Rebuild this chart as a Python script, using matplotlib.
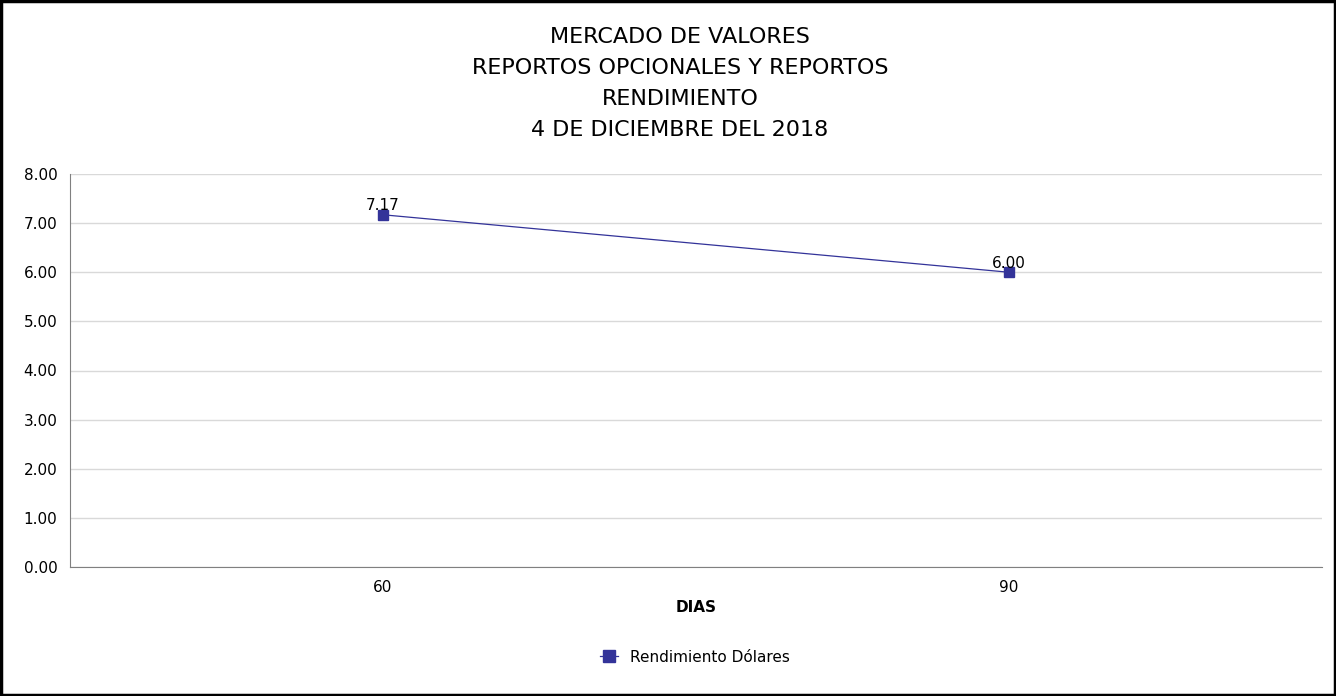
import matplotlib.pyplot as plt
from matplotlib.patches import Rectangle

# Data
dias = ['60', '90']
rendimiento = [7.17, 6.00]
etiquetas = ['7.17', '6.00']
yticks = [0, 1, 2, 3, 4, 5, 6, 7, 8]

titulo = ['MERCADO DE VALORES', 'REPORTOS OPCIONALES Y REPORTOS',
          'RENDIMIENTO', '4 DE DICIEMBRE DEL 2018']

color = '#333399'

fig = plt.figure(figsize=(13.36, 6.96), dpi=100)
ax = fig.add_axes([70 / 1336, 1 - 567 / 696, 1252 / 1336, 393 / 696])

x = list(range(len(dias)))
ax.plot(x, rendimiento, color=color, linewidth=0.9, marker='s', markersize=7,
        markerfacecolor=color, markeredgecolor=color, label='Rendimiento Dólares')
for xi, yi, t in zip(x, rendimiento, etiquetas):
    ax.annotate(t, (xi, yi), xytext=(0, 1), textcoords='offset points',
                ha='center', va='bottom', fontsize=11)

ax.set_xlim(-0.5, len(dias) - 0.5)
ax.set_ylim(0, 8)
ax.set_xticks(x)
ax.set_xticklabels(dias)
ax.set_yticks(yticks)
ax.set_yticklabels([f'{v:.2f}' for v in yticks])
ax.tick_params(axis='both', labelsize=11, length=0, pad=9)
ax.grid(axis='y', color='#d9d9d9', linewidth=1)
ax.set_axisbelow(True)
for s in ['top', 'right']:
    ax.spines[s].set_visible(False)
for s in ['left', 'bottom']:
    ax.spines[s].set_color('#808080')

ax.set_xlabel('DIAS', fontsize=11, fontweight='bold', labelpad=4)

for i, line in enumerate(titulo):
    fig.text(0.509, 1 - (37 + i * 31) / 696, line, ha='center', va='center', fontsize=16)

fig.legend(loc='center', bbox_to_anchor=(0.52, 1 - 657 / 696), frameon=False,
           fontsize=11, handlelength=1.2, markerscale=1.3)

fig.patches.append(Rectangle((0.001, 0.001), 0.998, 0.998, transform=fig.transFigure,
                             fill=False, edgecolor='black', linewidth=2.5))

fig.savefig('out.png', dpi=100)
